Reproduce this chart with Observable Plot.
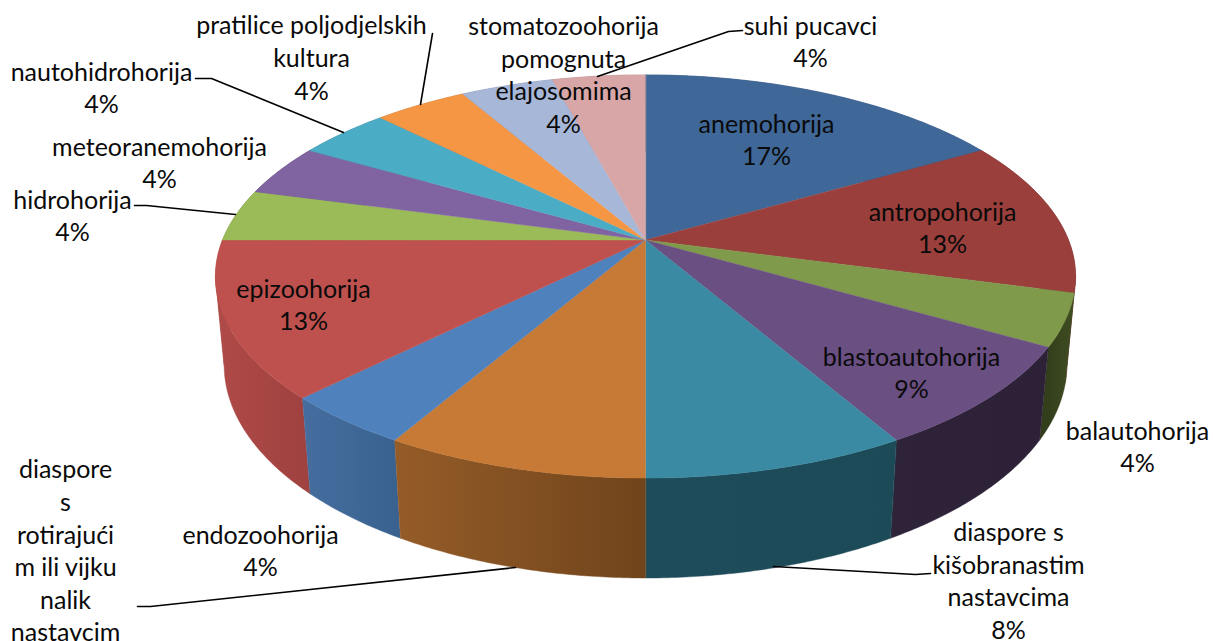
<!DOCTYPE html>
<html>
<head>
<meta charset="utf-8">
<script src="https://cdn.jsdelivr.net/npm/d3@7"></script>
<script src="https://cdn.jsdelivr.net/npm/@observablehq/plot@0.6"></script>
<style>
html,body{margin:0;padding:0;background:#fff;overflow:hidden}
svg{display:block;background:#fff}
</style>
</head>
<body>
<div id="chart"></div>
<script>
// Slice data, clockwise from twelve o'clock (share of 24)
const categories = ["anemohorija","antropohorija","balautohorija","blastoautohorija","diaspore s kišobranastim nastavcima","diaspore s rotirajućim ili vijku nalik nastavcima","endozoohorija","epizoohorija","hidrohorija","meteoranemohorija","nautohidrohorija","pratilice poljodjelskih kultura","stomatozoohorija pomognuta elajosomima","suhi pucavci"];
const shares = [4,3,1,2,2,2,1,3,1,1,1,1,1,1];
const topColors = ["#3F6797","#9A3F3C","#7F9A4B","#6A4F83","#3A8AA3","#C77A35","#4F81BD","#BE504D","#9BBB59","#8064A2","#4BACC6","#F59645","#A6B7D8","#D8A6A7"];
const wallLeft  = ["#2E4A6E","#6E2D2B","#333F1B","#2E2339","#1F4C5A","#955C28","#456E9F","#AE4A47","#6F8640","#5C4874","#367C8E","#B16C32","#77839B","#9B7778"];
const wallRight = ["#2E4A6E","#6E2D2B","#3F4D22","#2C2137","#1C4A57","#70441B","#3A6290","#A04240","#6F8640","#5C4874","#367C8E","#B16C32","#77839B","#9B7778"];

// Labels as printed in the picture
const labelTexts = ["anemohorija\n17%","antropohorija\n13%","balautohorija\n4%","blastoautohorija\n9%","diaspore s\nkišobranastim\nnastavcima\n8%","diaspore\ns\nrotirajući\nm ili vijku\nnalik\nnastavcim","endozoohorija\n4%","epizoohorija\n13%","hidrohorija\n4%","meteoranemohorija\n4%","nautohidrohorija\n4%","pratilice poljodjelskih\nkultura\n4%","stomatozoohorija\npomognuta\nelajosomima\n4%","suhi pucavci\n4%"];

// Layout only (page coordinates of label centres and leader lines)
const labelX = [766,942,1137,911,1008,65,260,303,72,159,101,311,563,810];
const labelY = [138,226,445,371,579,549,549,303,214,161,86,56,73,40];
const leaders = [
  [[195,78],[211,78],[343,132]],
  [[432,33],[420,104]],
  [[742,30],[728,31],[597,76]],
  [[134,205],[146,205],[235,214]],
  [[137,606],[150,606],[515,567]],
  [[930,573],[915,574],[773,566]]
];

// Perspective view of the disc
const W = 1213, H = 641;
const view = {cx:645, cy:239.5, a:423, b:195, k:0.181, drop:88.6, narrow:0.02};
function project(deg, level){ // level 0 = top rim, 1 = bottom rim
  const t = deg*Math.PI/180, X = Math.sin(t), d = -Math.cos(t);
  const w = 1 - view.k*d + level*view.narrow;
  return {x: view.cx + view.a*X/w, y: view.cy + (view.b*d + level*view.drop)/w, d};
}
const total = d3.sum(shares);
let acc = 0;
const slices = shares.map((s,i)=>{const a0=acc/total*360; acc+=s; return {i,a0,a1:acc/total*360};});

// Top face polygons
const topPts = [];
slices.forEach(s=>{
  topPts.push({id:s.i,x:view.cx,y:view.cy,c:topColors[s.i]});
  for(let a=s.a0;a<=s.a1+1e-6;a+=0.5){const p=project(a,0);topPts.push({id:s.i,x:p.x,y:p.y,c:topColors[s.i]});}
});

// Wall polygons, back to front; each filled with a left-to-right gradient.
// Split where the rim turns at the silhouette so no polygon folds over itself.
const foldR = Math.acos(-view.k)*180/Math.PI, foldL = 360-foldR;
const segments = slices.flatMap(s=>{
  const cuts=[s.a0,...[foldR,foldL].filter(f=>f>s.a0&&f<s.a1),s.a1];
  return d3.pairs(cuts).map(([a0,a1])=>({i:s.i,a0,a1}));
});
segments.sort((p,q)=>project((p.a0+p.a1)/2,0).d-project((q.a0+q.a1)/2,0).d);
const wallMarks = segments.map(s=>{
  const steps=Math.max(1,Math.ceil((s.a1-s.a0)/0.5)), pts=[];
  for(let j=0;j<=steps;j++){const p=project(s.a0+(s.a1-s.a0)*j/steps,0);pts.push({x:p.x,y:p.y});}
  for(let j=steps;j>=0;j--){const p=project(s.a0+(s.a1-s.a0)*j/steps,1);pts.push({x:p.x,y:p.y});}
  return Plot.line(pts,{x:"x",y:"y",fill:`url(#wall${s.i})`,stroke:`url(#wall${s.i})`,strokeWidth:0.4,curve:"linear-closed"});
});
function gradientDefs(){
  const ns="http://www.w3.org/2000/svg";
  const defs=document.createElementNS(ns,"defs");
  slices.forEach(s=>{
    const p0=project(s.a0,0).x,p1=project(s.a1,0).x;
    const g=document.createElementNS(ns,"linearGradient");
    g.setAttribute("id","wall"+s.i);
    g.setAttribute("gradientUnits","userSpaceOnUse");
    g.setAttribute("x1",Math.min(p0,p1));g.setAttribute("x2",Math.max(p0,p1));
    g.setAttribute("y1",0);g.setAttribute("y2",0);
    [[0,wallLeft[s.i]],[1,wallRight[s.i]]].forEach(([o,c])=>{
      const st=document.createElementNS(ns,"stop");
      st.setAttribute("offset",o);st.setAttribute("stop-color",c);g.appendChild(st);
    });
    defs.appendChild(g);
  });
  return defs;
}

const leaderPts = leaders.flatMap((l,id)=>l.map(([x,y])=>({id,x,y})));
const labels = labelTexts.map((text,i)=>({text,x:labelX[i],y:labelY[i]}));

const fontFamily = "Lato, 'Noto Sans', sans-serif";
const fontSize = 25;

const plot = Plot.plot({
  width:W, height:H,
  margin:0,
  x:{domain:[0,W],range:[0,W],axis:null},
  y:{domain:[0,H],range:[0,H],axis:null},
  marks:[
    gradientDefs,
    ...wallMarks,
    Plot.line(topPts,{x:"x",y:"y",z:"id",fill:"c",stroke:"c",strokeWidth:0.4,curve:"linear-closed"}),
    Plot.line(leaderPts,{x:"x",y:"y",z:"id",stroke:"#000",strokeWidth:1.6,curve:"linear"}),
    Plot.text(labels,{x:"x",y:"y",text:"text",textAnchor:"middle",lineAnchor:"middle",lineHeight:32.6/fontSize,fontSize,fontFamily,fill:"#0a0a0a"})
  ]
});
document.getElementById("chart").appendChild(plot);
</script>
</body>
</html>
